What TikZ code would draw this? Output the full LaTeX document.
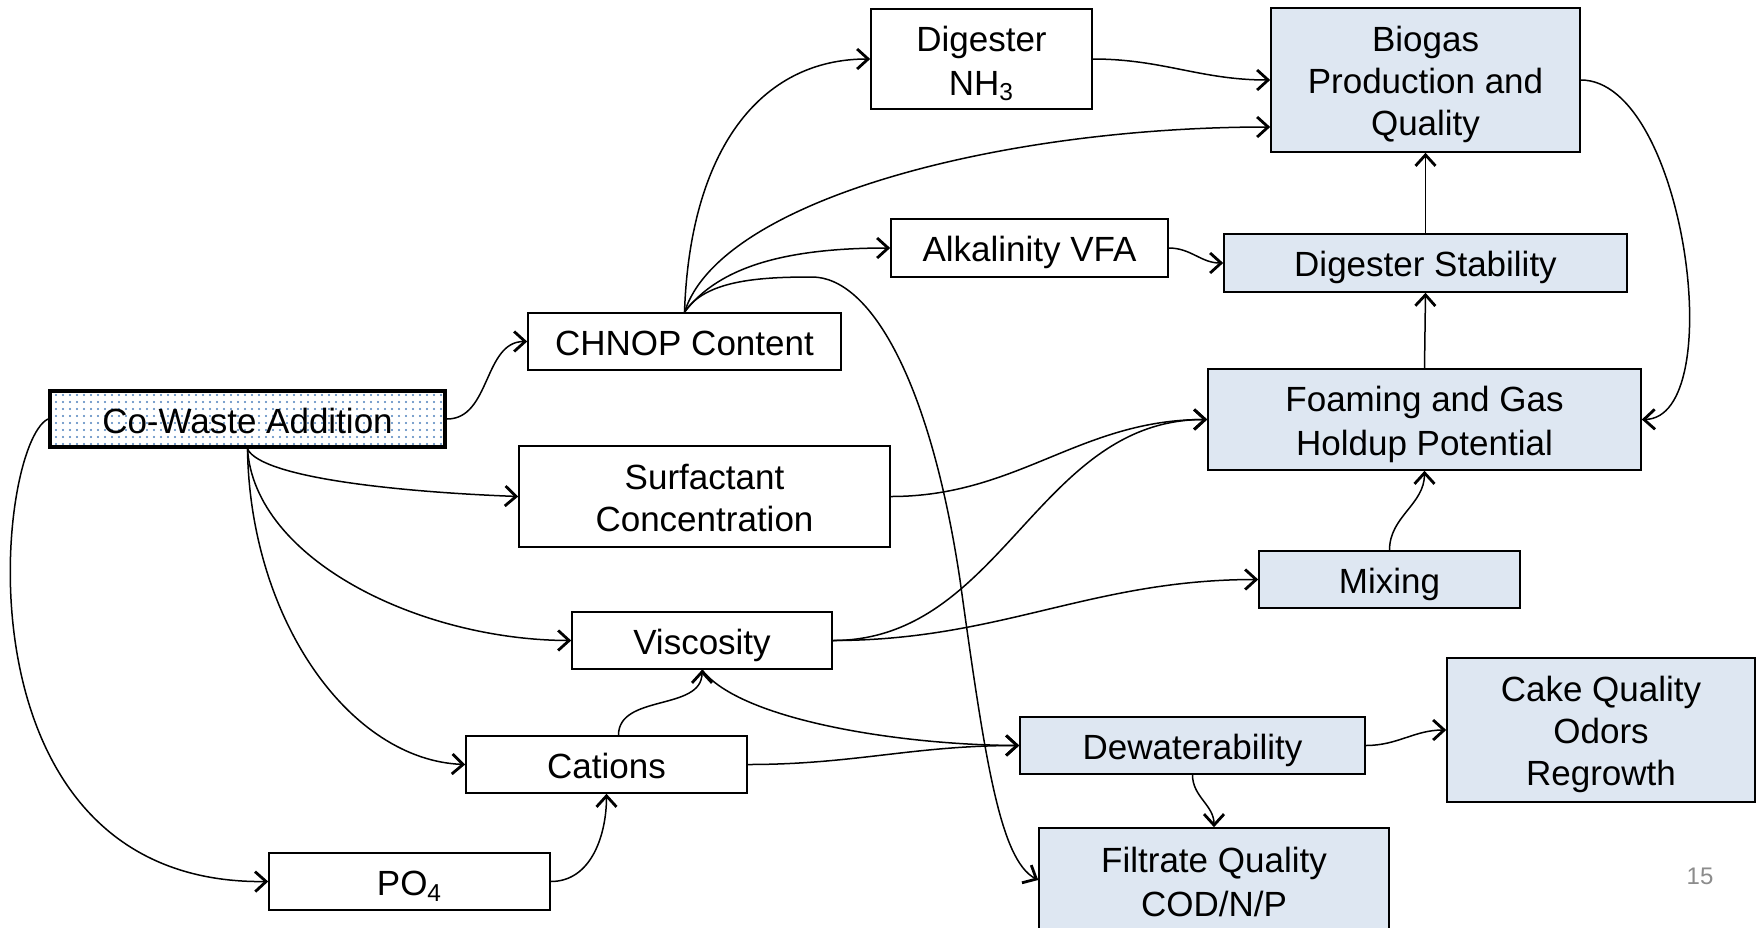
\documentclass[tikz,border=0pt]{standalone}
\usepackage{fontspec}
\setmainfont{Liberation Sans}
\usetikzlibrary{arrows.meta,patterns.meta,calc}
\definecolor{boxblue}{RGB}{222,231,242}
\definecolor{dotblue}{RGB}{79,129,189}
\definecolor{pagegray}{RGB}{140,140,140}
\newcommand\boxstrut{\rule[-3pt]{0pt}{20.4pt}}

\begin{document}
\begin{tikzpicture}
  [
    x=0.5pt, y=-0.5pt,
    block/.style =
      {draw, rectangle, align=center, line width=0.8pt, inner sep=0pt,
       font=\fontsize{17.5}{21}\selectfont},
    fblock/.style =
      {block, fill=boxblue},
    carrow/.style =
      {->, >={Straight Barb[length=5.5pt,width=10pt,line width=1.4pt]}, line width=0.75pt}
  ]

\fill[white] (0,0) rectangle (1756,927);
\clip (0,0) rectangle (1756,927);

\node[block, line width=2pt, pattern={Dots[distance=3.5pt,radius=0.55pt]}, pattern color=dotblue,
      minimum width=197.5pt, minimum height=28pt] (cw) at (247.5,419) {\boxstrut Co-Waste Addition};

\node[block, minimum width=156.5pt, minimum height=28.5pt] (chnop) at (684.5,341.5) {\boxstrut CHNOP Content};
\node[block, minimum width=185.5pt, minimum height=50.5pt] (surf) at (704.5,496.5) {\boxstrut Surfactant\\Concentration\boxstrut};
\node[block, minimum width=130pt, minimum height=28.5pt] (visc) at (702,640.5) {\boxstrut Viscosity};
\node[block, minimum width=140.5pt, minimum height=28.5pt] (cat) at (606.5,764.5) {\boxstrut Cations};
\node[block, minimum width=140.5pt, minimum height=28.5pt] (po) at (409.5,881.5) {\boxstrut PO\textsubscript{4}};
\node[block, minimum width=110.5pt, minimum height=50pt] (nh3) at (981.5,59) {\boxstrut Digester\\NH\textsubscript{3}\boxstrut};
\node[block, minimum width=138.5pt, minimum height=29pt] (alk) at (1029.5,248) {\boxstrut Alkalinity VFA};

\node[fblock, minimum width=154.5pt, minimum height=72pt] (bio) at (1425.5,80) {\boxstrut Biogas\\Production and\\Quality\boxstrut};
\node[fblock, minimum width=201.5pt, minimum height=29pt] (stab) at (1425.5,263) {\boxstrut Digester Stability};
\node[fblock, minimum width=216.5pt, minimum height=50.5pt] (foam) at (1424.5,419.5) {\boxstrut Foaming and Gas\\Holdup Potential\boxstrut};
\node[fblock, minimum width=130.5pt, minimum height=28.5pt] (mix) at (1389.5,579.5) {\boxstrut Mixing};
\node[fblock, minimum width=172.5pt, minimum height=28.5pt] (dew) at (1192.5,745.5) {\boxstrut Dewaterability};
\node[fblock, minimum width=154pt, minimum height=72pt] (cake) at (1601,730) {\boxstrut Cake Quality\\Odors\\Regrowth\boxstrut};
\node[fblock, minimum width=175pt, minimum height=52pt] (filt) at (1214,880) {\boxstrut Filtrate Quality\\COD/N/P\boxstrut};

\node[text=pagegray, font=\fontsize{12}{14}\selectfont] (pg) at (1700,876) {15};

\coordinate (biolow) at ([yshift=-23.5pt]bio.west);

\draw[carrow] (cw.east) to[out=0,in=180] (chnop.west);
\draw[carrow] (cw.south) .. controls (262,478) and (400,492) .. (surf.west);
\draw[carrow] (cw.south) .. controls (255,560) and (420,640) .. (visc.west);
\draw[carrow] (cw.south) .. controls (250,620) and (350,760) .. (cat.west);
\draw[carrow] (cw.west) .. controls (-5,445) and (-50,885) .. (po.west);

\draw[carrow] (chnop.north) .. controls (690,150) and (760,59) .. (nh3.west);
\draw[carrow] (chnop.north) .. controls (720,200) and (1000,127) .. (biolow);
\draw[carrow] (chnop.north) .. controls (720,265) and (790,248) .. (alk.west);
\draw[carrow] (chnop.north) .. controls (705,280) and (760,277) .. (812,277)
  .. controls (870,277) and (930,380) .. (960,580)
  .. controls (985,760) and (1000,860) .. (filt.west);

\draw[carrow] (nh3.east) to[out=0,in=180] (bio.west);
\draw[carrow] (alk.east) to[out=0,in=180] (stab.west);
\draw[carrow] (stab.north) -- (bio.south);
\draw[carrow] (foam.north) -- (stab.south);
\draw[carrow] (bio.east) .. controls (1685,80) and (1730,418) .. (foam.east);

\draw[carrow] (surf.east) to[out=0,in=180] (foam.west);
\draw[carrow] (visc.east) to[out=0,in=180] (foam.west);
\draw[carrow] (visc.east) to[out=0,in=180] (mix.west);
\draw[carrow] (mix.north) to[out=90,in=-90] (foam.south);

\draw[carrow] ([xshift=6pt]cat.north) to[out=90,in=-90] (visc.south);
\draw[carrow] (visc.south) .. controls (740,720) and (900,745) .. (dew.west);
\draw[carrow] (cat.east) to[out=0,in=180] (dew.west);
\draw[carrow] (po.east) to[out=0,in=-90] (cat.south);

\draw[carrow] (dew.south) to[out=-90,in=90] (filt.north);
\draw[carrow] (dew.east) to[out=0,in=180] (cake.west);

\end{tikzpicture}
\end{document}
